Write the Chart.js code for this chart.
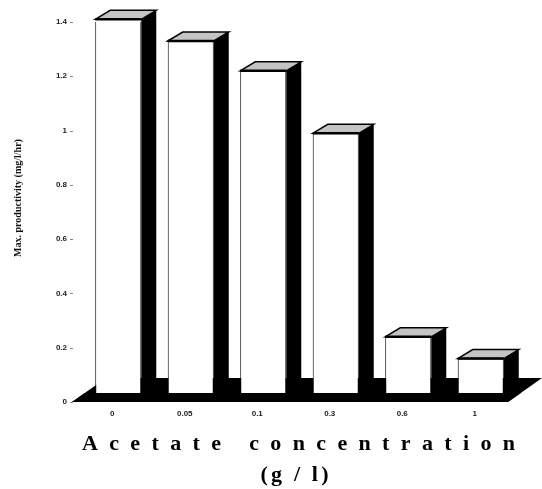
<!DOCTYPE html>
<html>
<head>
<meta charset="utf-8">
<script src="https://cdn.jsdelivr.net/npm/chart.js@4"></script>
<style>
  body { margin: 0; background: #fff; }
  #wrap { width: 542px; height: 489px; }
</style>
</head>
<body>
<div id="wrap"><canvas id="chart" width="542" height="489"></canvas></div>
<script>
// Data
var concentrations = ["0", "0.05", "0.1", "0.3", "0.6", "1"];
var productivity = [1.41, 1.33, 1.22, 0.99, 0.24, 0.16];
var y_ticks = [0, 0.2, 0.4, 0.6, 0.8, 1, 1.2, 1.4];
var y_title = "Max. productivity (mg/l/hr)";
var x_title = ["Acetate concentration", "(g / l)"];

// 3d look
var depth_x = 15;
var depth_y = 9;
var floor_dx = 34;
var floor_dy = 24;
var floor_front = 9;

function floor_corners(chart){
    var area = chart.chartArea;
    return {left: area.left - 10, right: area.right - 9, bottom: area.bottom};
}

function draw_spaced(ctx, text, cx, baseline, width){
    ctx.letterSpacing = "0px";
    var natural = ctx.measureText(text).width;
    var spacing = (width - natural) / (text.length - 1);
    ctx.letterSpacing = spacing + "px";
    ctx.textAlign = "left";
    ctx.fillText(text, cx - width / 2, baseline);
    ctx.letterSpacing = "0px";
}

var box_plugin = {
    id: "box3d",
    beforeDatasetsDraw: function(chart){
        // the black floor under the bars
        var ctx = chart.ctx;
        var f = floor_corners(chart);
        ctx.save();
        ctx.fillStyle = "#000";
        ctx.beginPath();
        ctx.moveTo(f.left, f.bottom);
        ctx.lineTo(f.right, f.bottom);
        ctx.lineTo(f.right + floor_dx, f.bottom - floor_dy);
        ctx.lineTo(f.left + floor_dx, f.bottom - floor_dy);
        ctx.closePath();
        ctx.fill();
        ctx.restore();
    },
    afterDatasetsDraw: function(chart){
        var ctx = chart.ctx;
        var f = floor_corners(chart);
        var meta = chart.getDatasetMeta(0);
        ctx.save();
        for (let i = 0; i < meta.data.length; i++){
            var bar = meta.data[i].getProps(["x", "y", "base", "width"], true);
            var left = bar.x - bar.width / 2;
            var right = bar.x + bar.width / 2;
            var top = bar.y;

            // side
            ctx.fillStyle = "#000";
            ctx.beginPath();
            ctx.moveTo(right, top);
            ctx.lineTo(right + depth_x, top - depth_y);
            ctx.lineTo(right + depth_x, bar.base - floor_dy);
            ctx.lineTo(right, bar.base);
            ctx.closePath();
            ctx.fill();

            // top
            ctx.fillStyle = "#c4c4c4";
            ctx.strokeStyle = "#000";
            ctx.lineWidth = 1.5;
            ctx.beginPath();
            ctx.moveTo(left, top);
            ctx.lineTo(left + depth_x, top - depth_y);
            ctx.lineTo(right + depth_x, top - depth_y);
            ctx.lineTo(right, top);
            ctx.closePath();
            ctx.fill();
            ctx.stroke();

            // darker front edge of the top
            ctx.lineWidth = 2.5;
            ctx.beginPath();
            ctx.moveTo(left, top);
            ctx.lineTo(right, top);
            ctx.stroke();
        }

        // front strip of the floor, in front of the bars
        var slope = floor_dx / floor_dy;
        ctx.fillStyle = "#000";
        ctx.beginPath();
        ctx.moveTo(f.left, f.bottom);
        ctx.lineTo(f.right, f.bottom);
        ctx.lineTo(f.right + floor_front * slope, f.bottom - floor_front);
        ctx.lineTo(f.left + floor_front * slope, f.bottom - floor_front);
        ctx.closePath();
        ctx.fill();
        ctx.restore();
    },
    afterDraw: function(chart){
        var ctx = chart.ctx;
        var area = chart.chartArea;
        var y = chart.scales.y;
        ctx.save();

        // little tick marks after the y labels
        ctx.strokeStyle = "#888";
        ctx.lineWidth = 1;
        for (let i = 0; i < y.ticks.length; i++){
            var py = Math.round(y.getPixelForValue(y.ticks[i].value)) + 0.5;
            ctx.beginPath();
            ctx.moveTo(area.left - 12, py);
            ctx.lineTo(area.left - 9, py);
            ctx.stroke();
        }

        // y title, turned
        ctx.fillStyle = "#111";
        ctx.font = "bold 10px 'Liberation Serif', serif";
        ctx.textAlign = "center";
        ctx.textBaseline = "middle";
        ctx.translate(18, (area.top + area.bottom) / 2 - 14);
        ctx.rotate(-Math.PI / 2);
        ctx.fillText(y_title, 0, 0);
        ctx.setTransform(1, 0, 0, 1, 0, 0);

        // x title, spaced out
        ctx.fillStyle = "#000";
        ctx.textBaseline = "alphabetic";
        ctx.font = "bold 22px 'Liberation Serif', serif";
        var cx = (area.left + area.right) / 2;
        draw_spaced(ctx, x_title[0], cx - 1, area.bottom + 48, 433);
        draw_spaced(ctx, x_title[1], cx - 5, area.bottom + 79, 68);
        ctx.restore();
    }
};

var ctx = document.getElementById("chart").getContext("2d");

var config = {
    type: "bar",
    data: {
        labels: concentrations,
        datasets: [{
            data: productivity,
            backgroundColor: "#fff",
            borderColor: "#000",
            borderWidth: 1,
            borderSkipped: false,
            categoryPercentage: 1,
            barPercentage: 0.635
        }]
    },
    options: {
        responsive: false,
        animation: false,
        layout: {
            padding: {top: 22, right: 25, left: 0, bottom: 0}
        },
        plugins: {
            legend: {display: false},
            tooltip: {enabled: false}
        },
        scales: {
            x: {
                grid: {display: false, drawTicks: false},
                border: {display: false},
                ticks: {
                    color: "#222",
                    font: {family: "'Liberation Sans', Arial, sans-serif", weight: "bold", size: 8},
                    padding: 7,
                    labelOffset: -6,
                    maxRotation: 0
                },
                afterFit: function(scale){ scale.height = 87; }
            },
            y: {
                min: 0,
                max: 1.4,
                grid: {display: false, drawTicks: false},
                border: {display: false},
                afterBuildTicks: function(scale){
                    scale.ticks = y_ticks.map(function(v){ return {value: v}; });
                },
                ticks: {
                    color: "#222",
                    font: {family: "'Liberation Sans', Arial, sans-serif", weight: "bold", size: 8},
                    padding: 15,
                    callback: function(value){ return String(value); }
                },
                afterFit: function(scale){ scale.width = 82; }
            }
        }
    },
    plugins: [box_plugin]
};

var chart = new Chart(ctx, config);
</script>
</body>
</html>
